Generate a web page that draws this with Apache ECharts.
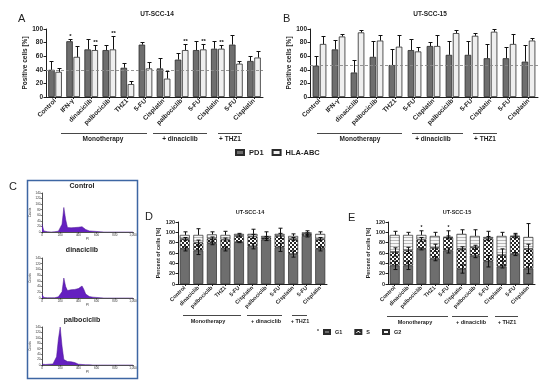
<!DOCTYPE html>
<html><head><meta charset="utf-8">
<script src="https://cdn.jsdelivr.net/npm/echarts@6/dist/echarts.min.js"></script>
<style>html,body{margin:0;padding:0;background:#fff}#c{width:550px;height:386px}</style>
</head><body><div id="c"></div>
<script>
// ---------- DATA ----------
const catsAB = ['Control','IFN-γ','dinaciclib','palbociclib','THZ1','5-FU','Cisplatin','palbociclib','5-FU','Cisplatin','5-FU','Cisplatin'];
const catsDE = ['Control','dinaciclib','palbociclib','THZ1','5-FU','Cisplatin','palbociclib','5-FU','Cisplatin','5-FU','Cisplatin'];

// Panel A (UT-SCC-14)
const pd1A    = [40,82,70,69,43,77,42,55,69,71,77,53];
const pd1ATop = [53,85,85,76,50,81,57,64,83,83,91,61];
const hlaA    = [37,59,69,70,19,42,27,69,70,71,49,58];
const hlaATop = [43,75,77,89,24,51,38,78,78,77,53,68];
const starsAPd1 = ['','*','','','','','','','','','',''];
const starsAHla = ['','','**','**','','','','**','**','**','',''];
const refA = 40;

// Panel B (UT-SCC-15)
const pd1B    = [46,70,36,59,47,69,75,62,62,57,57,52];
const pd1BTop = [60,84,54,82,70,86,81,83,82,78,74,76];
const hlaB    = [78,89,95,83,74,67,75,94,90,96,78,83];
const hlaBTop = [89,93,99,91,91,73,91,99,94,100,92,87];
const starsNone = ['','','','','','','','','','','',''];
const refB = 46;

// Panel C histograms (x bins)
const histX = [0,20,40,60,80,100,120,140,160,180,200,220,240,260,280,300,320,340,360,380,400,420,440,460,480,500,520,540,560,580,600,620,640,660,680,700,720,740,760,780,800,820,840,860,880,900,920,940,960,980,1000];
const histControl = [28,4,1,1,0,0,0,1,1,3,8,28,88,45,16,13,15,14,16,15,17,16,19,17,9,5,4,3,3,2,2,1,1,1,0,0,0,0,0,0,0,0,0,0,0,0,0,0,0,0,0];
const histDina    = [12,2,1,1,1,1,1,1,2,4,9,22,70,40,26,27,29,28,30,31,33,38,42,30,14,8,5,4,3,2,2,1,1,1,0,0,0,0,0,0,0,0,0,0,0,0,0,0,0,0,0];
const histPalbo   = [3,1,2,3,3,3,4,8,30,95,140,70,20,13,13,12,12,11,9,5,3,2,2,1,1,1,1,0,0,0,0,0,0,0,0,0,0,0,0,0,0,0,0,0,0,0,0,0,0,0,0];

// Panel D (UT-SCC-14) cell cycle
const g1D  = [68,65,79,68,81,73,86,71,58,93,68];
const sD   = [19,15,9,18,12,19,4,22,29,4,19];
const g2D  = [8,15,8,9,4,5,3,4,6,3,10];
const g1DErr = [4,8,3,4,1,5,2,8,6,2,4];
const sDErr  = [3,5,3,3,2,4,2,5,3,2,3];
const g2DErr = [6,12,5,7,1,9,8,11,4,3,4];
const starsD = ['','','','','','','','','','',''];

// Panel E (UT-SCC-15) cell cycle
const g1E  = [36,36,68,49,65,29,55,44,34,58,30];
const sE   = [26,29,18,21,25,39,16,44,22,34,38];
const g2E  = [33,30,9,23,1,29,22,3,37,1,23];
const g1EErr = [8,8,2,4,5,8,4,11,3,3,10];
const sEErr  = [8,6,4,7,3,4,4,4,12,3,9];
const g2EErr = [7,5,8,7,12,8,12,11,7,5,26];
const starsE = ['','','*','','*','','','','','',''];

// ---------- STYLE HELPERS ----------
const FONT = 'Liberation Sans, Arial, sans-serif';
const INK = '#1e1e1e';
function pat(w,h,draw){const c=document.createElement('canvas');c.width=w;c.height=h;const g=c.getContext('2d');draw(g);return c;}
const checker = pat(4,4,g=>{g.fillStyle='#ffffff';g.fillRect(0,0,4,4);g.fillStyle='#262626';g.fillRect(0,0,2,2);g.fillRect(2,2,2,2);});
const stripes = pat(3,3,g=>{g.fillStyle='#f6f6f6';g.fillRect(0,0,3,3);g.fillStyle='#b8b8b8';g.fillRect(0,0,3,1);});
const DARK = '#6e6e6e', LIGHT = '#efefef', PURPLE = '#6420c0';

function catX(i, cats, fs){
  return {type:'category', gridIndex:i, data:cats,
    axisLine:{lineStyle:{color:INK,width:1}},
    axisTick:{show:true,alignWithLabel:true,length:2,lineStyle:{color:INK}},
    axisLabel:{rotate:45,fontSize:fs,fontWeight:'bold',color:INK,margin:3,interval:0,fontFamily:FONT}};
}
function valY(i, max, name, fs, gap){
  return {type:'value', gridIndex:i, min:0, max:max, interval:20, name:name, nameLocation:'middle', nameGap:gap,
    nameTextStyle:{fontSize:fs,fontWeight:'bold',color:INK,fontFamily:FONT},
    axisLine:{show:true,lineStyle:{color:INK,width:1}},
    axisTick:{show:true,length:2.5,lineStyle:{color:INK}},
    axisLabel:{fontSize:fs,fontWeight:'bold',color:INK,margin:3,fontFamily:FONT},
    splitLine:{show:false}};
}
function histXAxis(i){
  return {type:'value', gridIndex:i, min:0, max:1000, interval:200, name:'PI', nameLocation:'middle', nameGap:6,
    nameTextStyle:{fontSize:3,color:'#333'},
    axisLine:{show:true,lineStyle:{color:'#222',width:0.8}},
    axisTick:{show:true,length:1.5,lineStyle:{color:'#222',width:0.6}},
    axisLabel:{fontSize:3,color:'#333',margin:1.5}, splitLine:{show:false}};
}
function histYAxis(i){
  return {type:'value', gridIndex:i, min:0, max:140, interval:20, name:'Counts', nameLocation:'middle', nameGap:7,
    nameTextStyle:{fontSize:3,color:'#333'},
    axisLine:{show:true,lineStyle:{color:'#222',width:0.8}},
    axisTick:{show:true,length:1.5,lineStyle:{color:'#222',width:0.6}},
    axisLabel:{fontSize:3,color:'#333',margin:1.5}, splitLine:{show:false}};
}
const BW = 6.5, GAP = 0.65;
const OFF = (BW+GAP)/2;
function pairBar(i, name, vals, color, ref){
  const s = {type:'bar', name:name, xAxisIndex:i, yAxisIndex:i, data:vals, barWidth:BW, barGap:'10%',
    itemStyle:{color:color, borderColor:'#2a2a2a', borderWidth:0.8}, silent:true};
  if (ref !== undefined) s.markLine = {silent:true, symbol:'none', label:{show:false},
    lineStyle:{color:'#8a8a8a', type:[3,2], width:0.9}, data:[{yAxis:ref}]};
  return s;
}
function pairErr(i, vals, tops, stars, off){
  return {type:'custom', xAxisIndex:i, yAxisIndex:i, z:5, silent:true,
    data: vals.map((v,k)=>[k, v, tops[k]]),
    renderItem(params, api){
      const k = api.value(0);
      const b = api.coord([k, api.value(1)]), t = api.coord([k, api.value(2)]);
      const x = Math.round(b[0]+off)+0.5, ty = Math.round(t[1])+0.5;
      const ch = [
        {type:'line', shape:{x1:x,y1:b[1],x2:x,y2:ty}, style:{stroke:'#111',lineWidth:1}},
        {type:'line', shape:{x1:x-2,y1:ty,x2:x+2,y2:ty}, style:{stroke:'#111',lineWidth:1}}];
      const s = stars[params.dataIndex];
      if (s) ch.push({type:'text', x:x, y:ty-0.5, style:{text:s, fontSize:6, fontWeight:'bold', fill:'#111', align:'center', verticalAlign:'bottom', fontFamily:FONT}});
      return {type:'group', children:ch};
    }};
}
function stackBar(i, name, vals, color){
  return {type:'bar', name:name, xAxisIndex:i, yAxisIndex:i, stack:'cc'+i, data:vals, barWidth:10,
    itemStyle:{color:color, borderColor:'#2a2a2a', borderWidth:0.7}, silent:true};
}
function stackErr(i, g1, s, g2, e1, e2, e3, stars){
  return {type:'custom', xAxisIndex:i, yAxisIndex:i, z:5, silent:true,
    data: g1.map((v,k)=>[k, v, v+s[k], v+s[k]+g2[k], e1[k], e2[k], e3[k]]),
    renderItem(params, api){
      const k = api.value(0);
      const ch = [];
      const x = Math.round(api.coord([k,0])[0])+0.5;
      function bar(val, err, both){
        const p = api.coord([k,val])[1], up = api.coord([k,val+err])[1], dn = api.coord([k,val-err])[1];
        const y1 = both ? dn : p;
        ch.push({type:'line', shape:{x1:x,y1:y1,x2:x,y2:up}, style:{stroke:'#111',lineWidth:1}});
        ch.push({type:'line', shape:{x1:x-2,y1:up,x2:x+2,y2:up}, style:{stroke:'#111',lineWidth:1}});
        if (both) ch.push({type:'line', shape:{x1:x-2,y1:dn,x2:x+2,y2:dn}, style:{stroke:'#111',lineWidth:1}});
        return up;
      }
      bar(api.value(1), api.value(4), true);
      bar(api.value(2), api.value(5), true);
      const top = bar(api.value(3), api.value(6), false);
      const st = stars[params.dataIndex];
      if (st) ch.push({type:'text', x:x, y:top-0.5, style:{text:st, fontSize:5, fontWeight:'bold', fill:'#111', align:'center', verticalAlign:'bottom', fontFamily:FONT}});
      return {type:'group', children:ch};
    }};
}
function hist(i, vals){
  return {type:'line', xAxisIndex:i, yAxisIndex:i, data: histX.map((x,k)=>[x, vals[k]]), showSymbol:false, silent:true,
    lineStyle:{color:'#4a1590', width:0.5}, areaStyle:{color:PURPLE, opacity:1}};
}

// ---------- CHART ----------
const chart = echarts.init(document.getElementById('c'), null, {renderer:'canvas'});
const gridBase = {containLabel:false, outerBoundsMode:'none'};
const T = (x,y,text,fs,weight,align)=>({type:'text', x:x, y:y, silent:true,
  style:{text:text, fontSize:fs, fontWeight:weight||'bold', fill:INK, align:align||'center', verticalAlign:'middle', fontFamily:FONT}});
const L = (x1,x2,y)=>({type:'line', silent:true, shape:{x1:x1,y1:y+0.5,x2:x2,y2:y+0.5}, style:{stroke:'#333',lineWidth:0.9}});

chart.setOption({
  animation:false,
  backgroundColor:'#ffffff',
  textStyle:{fontFamily:FONT},
  grid:[
    Object.assign({left:46, top:29, width:217, height:68}, gridBase),
    Object.assign({left:310, top:29, width:228, height:68}, gridBase),
    Object.assign({left:42, top:193, width:91, height:39}, gridBase),
    Object.assign({left:42, top:258, width:91, height:40}, gridBase),
    Object.assign({left:42, top:327, width:91, height:38}, gridBase),
    Object.assign({left:178, top:222, width:149, height:62}, gridBase),
    Object.assign({left:388, top:222, width:147, height:62}, gridBase)
  ],
  xAxis:[catX(0,catsAB,6.5), catX(1,catsAB,6.5), histXAxis(2), histXAxis(3), histXAxis(4), catX(5,catsDE,5.5), catX(6,catsDE,5.5)],
  yAxis:[valY(0,100,'Positive cells [%]',6.5,16), valY(1,100,'Positive cells [%]',6.5,16), histYAxis(2), histYAxis(3), histYAxis(4),
         valY(5,120,'Percent of cells [%]',5.5,13), valY(6,120,'Percent of cells [%]',5.5,13)],
  legend:[
    {data:['PD1','HLA-ABC'], left:235, top:148.5, padding:0, itemWidth:8, itemHeight:5, itemGap:8, selectedMode:false, icon:'rect',
     textStyle:{fontSize:7.5, fontWeight:'bold', color:INK, fontFamily:FONT}},
    {data:['G1','S','G2'], left:323, top:329, padding:0, itemWidth:6, itemHeight:4, itemGap:12, selectedMode:false, icon:'rect',
     textStyle:{fontSize:5.5, fontWeight:'bold', color:INK, fontFamily:FONT}}
  ],
  series:[
    pairBar(0,'PD1',pd1A,DARK,refA), pairBar(0,'HLA-ABC',hlaA,LIGHT),
    pairErr(0,pd1A,pd1ATop,starsAPd1,-OFF), pairErr(0,hlaA,hlaATop,starsAHla,OFF),
    pairBar(1,'PD1',pd1B,DARK,refB), pairBar(1,'HLA-ABC',hlaB,LIGHT),
    pairErr(1,pd1B,pd1BTop,starsNone,-OFF), pairErr(1,hlaB,hlaBTop,starsNone,OFF),
    hist(2,histControl), hist(3,histDina), hist(4,histPalbo),
    stackBar(5,'G1',g1D,DARK), stackBar(5,'S',sD,{image:checker,repeat:'repeat'}), stackBar(5,'G2',g2D,{image:stripes,repeat:'repeat'}),
    stackErr(5,g1D,sD,g2D,g1DErr,sDErr,g2DErr,starsD),
    stackBar(6,'G1',g1E,DARK), stackBar(6,'S',sE,{image:checker,repeat:'repeat'}), stackBar(6,'G2',g2E,{image:stripes,repeat:'repeat'}),
    stackErr(6,g1E,sE,g2E,g1EErr,sEErr,g2EErr,starsE)
  ],
  graphic:[
    T(18,19,'A',11,'normal','left'), T(283,19,'B',11,'normal','left'), T(9,187,'C',11,'normal','left'),
    T(145,217,'D',11,'normal','left'), T(348,218,'E',11,'normal','left'),
    T(157,14,'UT-SCC-14',6.5), T(430,14,'UT-SCC-15',6.5), T(250,212,'UT-SCC-14',5.5), T(457,212,'UT-SCC-15',5.5),
    L(61,147,133), L(153,207,133), L(218,242,133),
    T(103,139.5,'Monotherapy',6.5), T(180,139.5,'+ dinaciclib',6.5), T(230,139.5,'+ THZ1',6.5),
    L(317,402,133), L(412,463,133), L(473,497,133),
    T(360,139.5,'Monotherapy',6.5), T(433,139.5,'+ dinaciclib',6.5), T(485,139.5,'+ THZ1',6.5),
    L(183,241,315), L(247,282,315), L(292,307,315),
    T(208,321,'Monotherapy',5.5), T(266,321,'+ dinaciclib',5.5), T(300,321,'+ THZ1',5.5),
    L(387,448,316), L(452,488,316), L(495,518,316),
    T(415,322,'Monotherapy',5.5), T(471,322,'+ dinaciclib',5.5), T(507,322,'+ THZ1',5.5),
    {type:'rect', silent:true, shape:{x:27.5,y:180.5,width:110,height:198}, style:{fill:'none', stroke:'#3d66a3', lineWidth:1.5}},
    T(82,186,'Control',7), T(82,250,'dinaciclib',7), T(82,320,'palbociclib',7),
    T(318,332,'*',5,'bold')
  ]
});
</script></body></html>
